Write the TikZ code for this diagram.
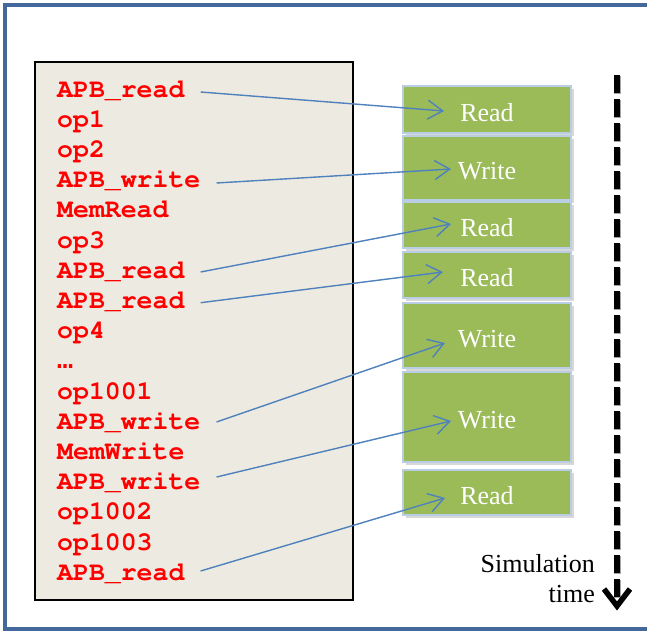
\documentclass[tikz,border=0pt]{standalone}
\usepackage{fontspec}
\setmainfont{Liberation Serif}
\newfontfamily\codefont{Liberation Mono}
\newcommand\courierbold{\fontencoding{T1}\fontfamily{pcr}\fontseries{b}\fontshape{n}\fontsize{26.5}{30}\selectfont}
\usetikzlibrary{arrows.meta,shadows}
\definecolor{frameblue}{HTML}{44689B}
\definecolor{codebg}{HTML}{EDEBE1}
\definecolor{boxgreen}{HTML}{9BBB59}
\definecolor{boxedge}{HTML}{B9CDE5}
\definecolor{linkblue}{HTML}{4F81BD}
\definecolor{codered}{HTML}{FF0000}
\begin{document}
\begin{tikzpicture}[x=1pt,y=-1pt,
  outerframe/.style={draw=frameblue,line width=4pt},
  codebox/.style={draw=black,line width=2pt,fill=codebg,minimum width=318pt,minimum height=538pt,inner sep=0pt},
  codeline/.style={anchor=base west,inner sep=0pt,text=codered,font=\courierbold},
  gbox/.style={draw=boxedge,line width=1.8pt,fill=boxgreen,minimum width=168pt,inner sep=0pt,text=white,font=\fontsize{26}{30}\selectfont,text height=23pt,text depth=0pt,drop shadow={shadow xshift=3pt,shadow yshift=-3pt,opacity=0.3}},
  linkarrow/.style={draw=linkblue,line width=1.4pt,-{Straight Barb[length=15pt,width=19pt]}},
  timeline/.style={line width=5.5pt,dash pattern=on 18pt off 6pt},
  simlabel/.style={anchor=base east,inner sep=0pt,font=\fontsize{26}{30}\selectfont}
]
\useasboundingbox (0,0) rectangle (647,632);
\fill[white] (0,0) rectangle (647,632);
\draw[outerframe] (647,5) -- (5,5) -- (5,629) -- (647,629);

\node[codebox] (code) at (194,331) {};
\node[codeline] (l0) at (57,97) {APB\_read};
\node[codeline] (l1) at (57,127.2) {op1};
\node[codeline] (l2) at (57,157.4) {op2};
\node[codeline] (l3) at (57,187.6) {APB\_write};
\node[codeline] (l4) at (57,217.8) {MemRead};
\node[codeline] (l5) at (57,248) {op3};
\node[codeline] (l6) at (57,278.2) {APB\_read};
\node[codeline] (l7) at (57,308.4) {APB\_read};
\node[codeline] (l8) at (57,338.6) {op4};
\node[codeline,font=\codefont\bfseries\fontsize{26.5}{30}\selectfont] (l9) at (57,368.8) {…};
\node[codeline] (l10) at (57,399) {op1001};
\node[codeline] (l11) at (57,429.2) {APB\_write};
\node[codeline] (l12) at (57,459.4) {MemWrite};
\node[codeline] (l13) at (57,489.6) {APB\_write};
\node[codeline] (l14) at (57,519.8) {op1002};
\node[codeline] (l15) at (57,550) {op1003};
\node[codeline] (l16) at (57,580.2) {APB\_read};

\node[gbox,minimum height=47pt] (b1) at (487,109.5) {Read};
\node[gbox,minimum height=64pt] (b2) at (487,168) {Write};
\node[gbox,minimum height=46pt] (b3) at (487,225) {Read};
\node[gbox,minimum height=46pt] (b4) at (487,275) {Read};
\node[gbox,minimum height=65pt] (b5) at (487,335.5) {Write};
\node[gbox,minimum height=90pt] (b6) at (487,417) {Write};
\node[gbox,minimum height=45pt] (b7) at (487,492.5) {Read};

\draw[linkarrow] ([shift={(16,-5)}]l0.base east) -- ([shift={(-43,1.5)}]b1.center);
\draw[linkarrow] ([shift={(16,-4.6)}]l3.base east) -- ([shift={(-36,1)}]b2.center);
\draw[linkarrow] ([shift={(16,-6.2)}]l6.base east) -- ([shift={(-36,-1)}]b3.center);
\draw[linkarrow] ([shift={(16,-5.7)}]l7.base east) -- ([shift={(-44,-3)}]b4.center);
\draw[linkarrow] ([shift={(16,-7.2)}]l11.base east) -- ([shift={(-42,7.5)}]b5.center);
\draw[linkarrow] ([shift={(16,-12.6)}]l13.base east) -- ([shift={(-36,4)}]b6.center);
\draw[linkarrow] ([shift={(16,-9.2)}]l16.base east) -- ([shift={(-42,5.5)}]b7.center);

\coordinate (tstart) at (617,75);
\coordinate (tend) at (617,606);
\coordinate (tipL) at (604,589);
\coordinate (tipR) at (630,589);
\draw[timeline,draw=gray!70,line width=7pt,dash pattern=on 18pt off 6pt,dash phase=-1pt] (tstart) -- (tend);
\draw[timeline,draw=black] (tstart) -- (tend);
\draw[line width=5.5pt,line join=miter] (tipL) -- (tend) -- (tipR);

\node[simlabel] (sim) at (595,572) {Simulation};
\node[simlabel] (tim) at (595,602) {time};
\end{tikzpicture}
\end{document}
